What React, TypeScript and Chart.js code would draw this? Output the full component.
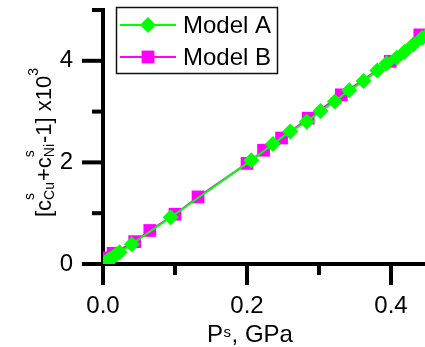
import React, { useEffect, useRef } from "react";
import { Chart, registerables } from "chart.js";

Chart.register(...registerables);

const modelAP = [0.002, 0.005, 0.008, 0.011, 0.015, 0.019, 0.023, 0.040, 0.094, 0.206, 0.236, 0.260, 0.283, 0.302, 0.322, 0.342, 0.362, 0.381, 0.394, 0.408, 0.419, 0.431, 0.443, 0.455];
const modelAC = [0.02, 0.05, 0.08, 0.11, 0.15, 0.19, 0.23, 0.39, 0.92, 2.04, 2.36, 2.61, 2.80, 3.01, 3.20, 3.42, 3.60, 3.81, 3.95, 4.06, 4.18, 4.32, 4.45, 4.58];
const modelBP = [0.003, 0.008, 0.014, 0.044, 0.065, 0.100, 0.132, 0.200, 0.223, 0.248, 0.285, 0.331, 0.399, 0.440];
const modelBC = [0.03, 0.12, 0.21, 0.44, 0.66, 0.98, 1.32, 1.98, 2.24, 2.48, 2.87, 3.33, 3.99, 4.51];

const seriesLabels = ["Model A", "Model B"];
const xTickValues = [0, 0.1, 0.2, 0.3, 0.4];
const xTickLabels = ["0.0", "", "0.2", "", "0.4"];
const yTickValues = [0, 1, 2, 3, 4, 5];
const yTickLabels = ["0", "", "2", "", "4", ""];

const FONT = "'Liberation Sans', Arial, sans-serif";
const GREEN = "#00FF00";
const MAGENTA = "#FF00FF";

const decorPlugin = {
  id: "decor",
  afterDraw(chart: any) {
    const ctx = chart.ctx as CanvasRenderingContext2D;
    const xs = chart.scales.x;
    const ys = chart.scales.y;
    const area = chart.chartArea;
    ctx.save();
    // tick marks (long for labelled ticks, short for minor ones)
    ctx.strokeStyle = "#000";
    ctx.lineWidth = 4;
    ctx.lineCap = "butt";
    yTickValues.forEach((v, i) => {
      const len = yTickLabels[i] ? 21 : 11;
      const p = ys.getPixelForValue(v);
      ctx.beginPath();
      ctx.moveTo(area.left - len, p);
      ctx.lineTo(area.left, p);
      ctx.stroke();
    });
    xTickValues.forEach((v, i) => {
      const len = xTickLabels[i] ? 21 : 11;
      const p = xs.getPixelForValue(v);
      ctx.beginPath();
      ctx.moveTo(p, area.bottom);
      ctx.lineTo(p, area.bottom + len);
      ctx.stroke();
    });

    // legend
    ctx.lineWidth = 1.5;
    ctx.strokeStyle = "#111";
    ctx.strokeRect(116.5, 7.5, 161, 66);
    const rows = [25, 57];
    chart.data.datasets.forEach((ds: any, i: number) => {
      const y = rows[i];
      ctx.strokeStyle = ds.borderColor;
      ctx.fillStyle = ds.backgroundColor;
      ctx.lineWidth = 2;
      ctx.beginPath();
      ctx.moveTo(120, y);
      ctx.lineTo(176, y);
      ctx.stroke();
      const cx = 148;
      ctx.beginPath();
      if (ds.pointStyle === "rectRot") {
        const r = 8;
        ctx.moveTo(cx - r, y);
        ctx.lineTo(cx, y - r);
        ctx.lineTo(cx + r, y);
        ctx.lineTo(cx, y + r);
        ctx.closePath();
      } else {
        const h = 6.4;
        ctx.rect(cx - h, y - h, 2 * h, 2 * h);
      }
      ctx.fill();
      ctx.fillStyle = "#000";
      ctx.font = `24px ${FONT}`;
      ctx.textAlign = "left";
      ctx.textBaseline = "middle";
      ctx.fillText(ds.label, 183, y + 1);
    });

    // x title: P^s, GPa
    ctx.fillStyle = "#000";
    ctx.textBaseline = "alphabetic";
    ctx.textAlign = "left";
    const big = `24px ${FONT}`;
    const small = `15px ${FONT}`;
    ctx.font = big;
    const wP = ctx.measureText("P").width;
    const wRest = ctx.measureText(", GPa").width;
    ctx.font = small;
    const wS = ctx.measureText("s").width + 1;
    const total = wP + wS + wRest;
    let x0 = 250 - total / 2;
    const base = 342;
    ctx.font = big;
    ctx.fillText("P", x0, base);
    x0 += wP;
    ctx.font = small;
    ctx.fillText("s", x0 + 0.5, base - 5);
    x0 += wS;
    ctx.font = big;
    ctx.fillText(", GPa", x0, base);

    // y title: [c^s_Cu + c^s_Ni - 1] x10^3
    const yb = `22px ${FONT}`;
    const ysm = `14px ${FONT}`;
    type Piece = { t: string; kind: "main" | "supsub" | "sup"; sub?: string };
    const pieces: Piece[] = [
      { t: "[c", kind: "main" },
      { t: "s", kind: "supsub", sub: "Cu" },
      { t: "+c", kind: "main" },
      { t: "s", kind: "supsub", sub: "Ni" },
      { t: "-1] x10", kind: "main" },
      { t: "3", kind: "sup" },
    ];
    const widths = pieces.map((p) => {
      if (p.kind === "main") {
        ctx.font = yb;
        return ctx.measureText(p.t).width;
      }
      ctx.font = ysm;
      const a = ctx.measureText(p.t).width;
      const b = p.sub ? ctx.measureText(p.sub).width : 0;
      return Math.max(a, b) + 1;
    });
    const tw = widths.reduce((a, b) => a + b, 0);
    ctx.save();
    ctx.translate(51, 142);
    ctx.rotate(-Math.PI / 2);
    let u = -tw / 2;
    pieces.forEach((p, i) => {
      if (p.kind === "main") {
        ctx.font = yb;
        ctx.fillText(p.t, u, 0);
      } else if (p.kind === "supsub") {
        ctx.font = ysm;
        ctx.fillText(p.t, u, -17);
        if (p.sub) ctx.fillText(p.sub, u, 3);
      } else {
        ctx.font = ysm;
        ctx.fillText(p.t, u, -13);
      }
      u += widths[i];
    });
    ctx.restore();
    ctx.restore();
  },
};

const zeroPadding = (s: any) => {
  s.paddingTop = 0;
  s.paddingBottom = 0;
  s.paddingLeft = 0;
  s.paddingRight = 0;
};

export default function App() {
  const ref = useRef<HTMLCanvasElement | null>(null);
  useEffect(() => {
    if (!ref.current) return;
    const dataA = modelAP.map((x, i) => ({ x, y: modelAC[i] }));
    const dataB = modelBP.map((x, i) => ({ x, y: modelBC[i] }));
    const chart = new Chart(ref.current, {
      type: "scatter",
      data: {
        datasets: [
          {
            label: seriesLabels[0],
            data: dataA,
            showLine: true,
            borderColor: GREEN,
            backgroundColor: GREEN,
            borderWidth: 2,
            pointStyle: "rectRot",
            pointRadius: 8,
            pointBorderWidth: 0,
            pointBackgroundColor: GREEN,
            pointBorderColor: GREEN,
          },
          {
            label: seriesLabels[1],
            data: dataB,
            showLine: true,
            borderColor: MAGENTA,
            backgroundColor: MAGENTA,
            borderWidth: 2,
            pointStyle: "rect",
            pointRadius: 9,
            pointBorderWidth: 0,
            pointBackgroundColor: MAGENTA,
            pointBorderColor: MAGENTA,
          },
        ],
      },
      options: {
        animation: false,
        responsive: false,
        devicePixelRatio: 1,
        layout: { autoPadding: false, padding: { top: 10, left: 0, right: 0, bottom: 0 } },
        plugins: {
          legend: { display: false },
          tooltip: { enabled: false },
        },
        events: [],
        scales: {
          x: {
            type: "linear",
            position: "bottom",
            min: 0,
            max: 0.4472,
            z: 1,
            border: { display: true, color: "#000", width: 4 },
            grid: { display: false, drawTicks: false },
            afterBuildTicks: (s: any) => {
              s.ticks = xTickValues.map((value) => ({ value }));
            },
            ticks: {
              padding: 28,
              color: "#000",
              maxRotation: 0,
              autoSkip: false,
              font: { family: FONT, size: 24 },
              callback: (_v: any, i: number) => xTickLabels[i] ?? "",
            },
            afterFit: (s: any) => {
              s.height = 83;
              zeroPadding(s);
            },
          },
          y: {
            type: "linear",
            position: "left",
            min: 0,
            max: 5,
            z: 1,
            border: { display: true, color: "#000", width: 4 },
            grid: { display: false, drawTicks: false },
            afterBuildTicks: (s: any) => {
              s.ticks = yTickValues.map((value) => ({ value }));
            },
            ticks: {
              padding: 30,
              color: "#000",
              autoSkip: false,
              font: { family: FONT, size: 24 },
              callback: (_v: any, i: number) => yTickLabels[i] ?? "",
            },
            afterFit: (s: any) => {
              s.width = 103;
              zeroPadding(s);
            },
          },
        },
      } as any,
      plugins: [decorPlugin],
    });
    return () => chart.destroy();
  }, []);
  return (
    <div style={{ position: "fixed", left: 0, top: 0, width: 425, height: 347, background: "#fff" }}>
      <canvas ref={ref} width={425} height={347} style={{ display: "block" }} />
    </div>
  );
}
